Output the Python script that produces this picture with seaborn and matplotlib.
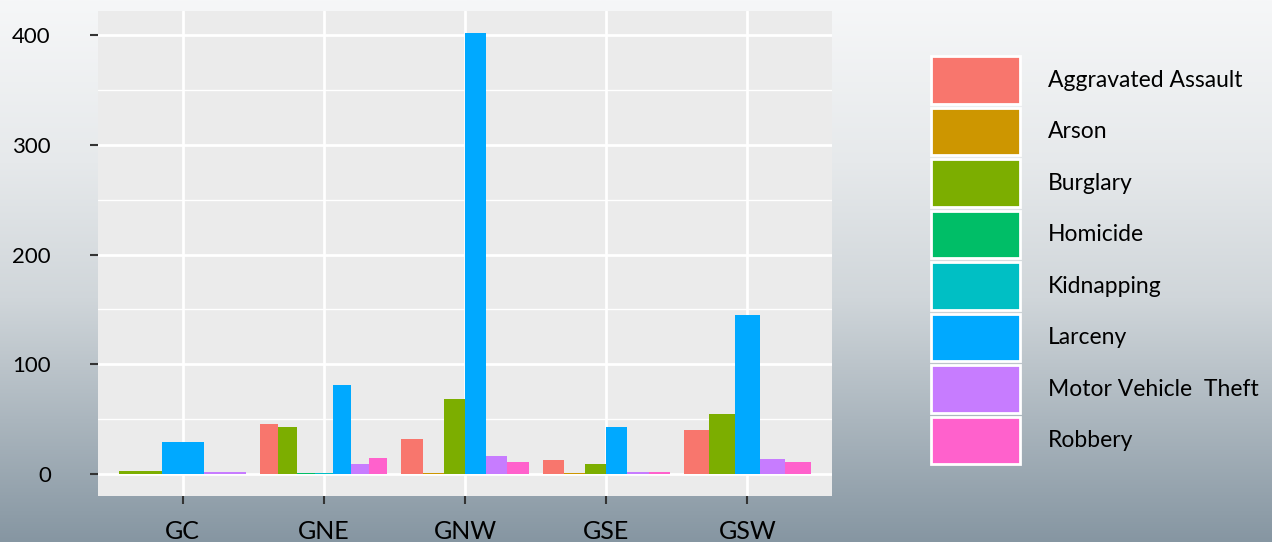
import numpy as np
import pandas as pd
import matplotlib
matplotlib.use("Agg")
import matplotlib.pyplot as plt
from matplotlib.patches import Patch
import seaborn as sns

# data (None = crime not present in that region)
regions = ["GC", "GNE", "GNW", "GSE", "GSW"]
crimes = ["Aggravated Assault", "Arson", "Burglary", "Homicide", "Kidnapping",
          "Larceny", "Motor Vehicle  Theft", "Robbery"]
aggravated_assault = [None, 46, 32, 13, 40]
arson = [None, None, 1, 1, None]
burglary = [3, 43, 68, 9, 55]
homicide = [None, 1, None, None, None]
kidnapping = [None, 1, None, None, None]
larceny = [29, 81, 402, 43, 145]
motor_vehicle_theft = [2, 9, 16, 2, 14]
robbery = [None, 15, 11, 2, 11]

colors = ["#F8766D", "#CD9600", "#7CAE00", "#00BE67", "#00BFC4",
          "#00A9FF", "#C77CFF", "#FF61CC"]
palette = dict(zip(crimes, colors))

series = [aggravated_assault, arson, burglary, homicide, kidnapping,
          larceny, motor_vehicle_theft, robbery]
rows = []
for crime, vals in zip(crimes, series):
    for region, v in zip(regions, vals):
        if v is not None:
            rows.append({"region": region, "crime": crime, "count": v})
df = pd.DataFrame(rows)

sns.set_theme(style="darkgrid", rc={
    "axes.facecolor": "#EBEBEB",
    "grid.color": "white",
    "axes.edgecolor": "none",
})
plt.rcParams["font.family"] = ["Lato", "DejaVu Sans"]

fig = plt.figure(figsize=(12.72, 5.42), dpi=100)

# gradient background
bg = fig.add_axes([0, 0, 1, 1], zorder=-10)
stops = np.array([[246, 247, 248], [230, 233, 235], [208, 214, 218], [134, 150, 162]]) / 255
pos = np.array([0.0, 0.3, 0.55, 1.0])
t = np.linspace(0, 1, 300)
grad = np.stack([np.interp(t, pos, stops[:, c]) for c in range(3)], axis=1)
bg.imshow(grad[:, None, :], aspect="auto", extent=[0, 1, 0, 1])
bg.axis("off")

ax = fig.add_axes([98 / 1272, 1 - 496 / 542, 734 / 1272, 485 / 542])

# ggplot-style dodge: each region's 0.9 width shared by the crimes present
for i, region in enumerate(regions):
    sub = df[df["region"] == region].copy()
    sub["crime"] = pd.Categorical(sub["crime"], categories=crimes, ordered=True)
    sub = sub.sort_values("crime")
    n = len(sub)
    w = 0.9 / n
    sub["xpos"] = i - 0.45 + w * (np.arange(n) + 0.5)
    sub["crime"] = sub["crime"].astype(str)
    sns.barplot(data=sub, x="xpos", y="count", hue="crime", hue_order=crimes,
                palette=palette, native_scale=True, dodge=False, width=1,
                saturation=1, errorbar=None, legend=False, linewidth=0, ax=ax)

ax.set_xlim(-0.6, 4.6)
ax.set_ylim(-20.1, 422.1)
ax.set_xticks(range(len(regions)))
ax.set_xticklabels(regions)
ax.set_yticks([0, 100, 200, 300, 400])
ax.set_yticks([50, 150, 250, 350], minor=True)
ax.grid(which="major", color="white", linewidth=2)
ax.grid(which="minor", axis="y", color="white", linewidth=1)
ax.set_axisbelow(True)
ax.set_xlabel("")
ax.set_ylabel("")
for s in ax.spines.values():
    s.set_visible(False)
ax.tick_params(axis="both", which="major", length=6, width=1.5, color="#333333",
               labelcolor="black")
ax.tick_params(axis="y", which="major", labelsize=16, pad=28, left=True)
ax.tick_params(axis="x", which="major", labelsize=18, pad=11, bottom=True)
ax.tick_params(which="minor", length=0)

handles = [Patch(facecolor=palette[c], edgecolor="white", linewidth=2) for c in crimes]
fig.legend(handles, crimes, loc="upper left", bbox_to_anchor=(931 / 1272, 1 - 56 / 542),
           frameon=False, fontsize=16.5, handlelength=3.9, handleheight=2.82,
           labelspacing=0.17, handletextpad=1.2, borderpad=0, borderaxespad=0,
           labelcolor="black")

fig.savefig("out.png", dpi=100)
